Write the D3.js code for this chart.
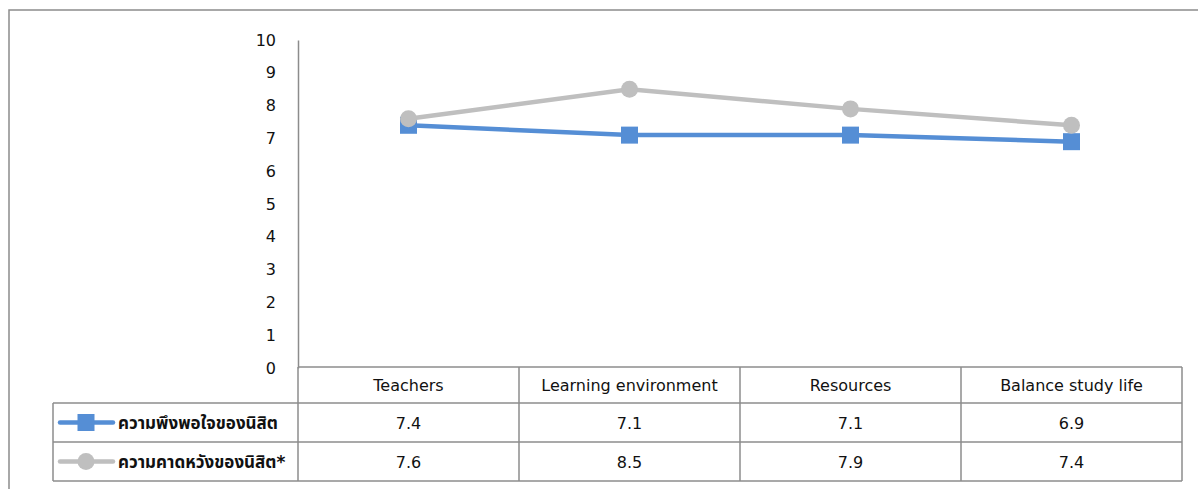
<!DOCTYPE html>
<html>
<head>
<meta charset="utf-8">
<script src="https://cdn.jsdelivr.net/npm/d3@7"></script>
<style>
  body { margin: 0; background: #fff; }
  text { font-family: "DejaVu Sans", "Noto Sans Thai", "Noto Sans", sans-serif; }
</style>
</head>
<body>
<div id="chart"></div>
<script>
const categories = ["Teachers", "Learning environment", "Resources", "Balance study life"];
const satisfaction = [7.4, 7.1, 7.1, 6.9];
const expectation = [7.6, 8.5, 7.9, 7.4];
const seriesNames = ["ความพึงพอใจของนิสิต", "ความคาดหวังของนิสิต*"];
const yTicks = [0, 1, 2, 3, 4, 5, 6, 7, 8, 9, 10];

const W = 1198, H = 489;
const plot = { left: 298, right: 1182, top: 40, bottom: 368 };
const rowLines = [367, 403, 442, 481];
const legendLeft = 53;

const svg = d3.select("#chart").append("svg")
  .attr("width", W).attr("height", H);

// outer border
svg.append("rect")
  .attr("x", 9).attr("y", 10)
  .attr("width", 1200).attr("height", 500)
  .attr("fill", "none").attr("stroke", "#8c8c8c").attr("stroke-width", 1.5);

const x = d3.scaleBand().domain(categories).range([plot.left, plot.right]);
const y = d3.scaleLinear().domain([0, 10]).range([plot.bottom, plot.top]);

// y axis
const yAxis = svg.append("g")
  .attr("transform", `translate(${plot.left},0)`)
  .call(d3.axisLeft(y).tickValues(yTicks).tickSize(0).tickPadding(22));
yAxis.select(".domain").attr("stroke", "#8c8c8c").attr("stroke-width", 1.5);
yAxis.selectAll("text").attr("font-size", 16).attr("fill", "#111");

// data table lines
const grid = svg.append("g").attr("stroke", "#8c8c8c").attr("stroke-width", 1.5);
grid.append("line").attr("x1", plot.left).attr("x2", plot.right).attr("y1", rowLines[0]).attr("y2", rowLines[0]);
rowLines.slice(1).forEach(yy => {
  grid.append("line").attr("x1", legendLeft).attr("x2", plot.right).attr("y1", yy).attr("y2", yy);
});
[plot.left, ...categories.map(c => x(c) + x.bandwidth())].forEach(xx => {
  grid.append("line").attr("x1", xx).attr("x2", xx).attr("y1", rowLines[0]).attr("y2", rowLines[3]);
});
grid.append("line").attr("x1", legendLeft).attr("x2", legendLeft).attr("y1", rowLines[1]).attr("y2", rowLines[3]);

// header
svg.append("g").selectAll("text").data(categories).join("text")
  .attr("x", d => x(d) + x.bandwidth() / 2)
  .attr("y", (rowLines[0] + rowLines[1]) / 2 + 6)
  .attr("text-anchor", "middle").attr("font-size", 16).attr("fill", "#111")
  .text(d => d);

const series = [
  { name: seriesNames[0], values: satisfaction, color: "#558ed5", shape: "square" },
  { name: seriesNames[1], values: expectation, color: "#bfbfbf", shape: "circle" }
];

const line = d3.line()
  .x((d, i) => x(categories[i]) + x.bandwidth() / 2)
  .y(d => y(d));

function marker(g, shape, color) {
  if (shape === "square") {
    g.append("rect").attr("x", -8.5).attr("y", -8.5).attr("width", 17).attr("height", 17).attr("fill", color);
  } else {
    g.append("circle").attr("r", 8.5).attr("fill", color);
  }
}

series.forEach((s, si) => {
  svg.append("path").datum(s.values)
    .attr("d", line).attr("fill", "none")
    .attr("stroke", s.color).attr("stroke-width", 4.5);
  s.values.forEach((v, i) => {
    const g = svg.append("g")
      .attr("transform", `translate(${x(categories[i]) + x.bandwidth() / 2},${y(v)})`);
    marker(g, s.shape, s.color);
  });

  const cy = (rowLines[si + 1] + rowLines[si + 2]) / 2;
  // legend key
  svg.append("line").attr("x1", 60).attr("x2", 113).attr("y1", cy).attr("y2", cy)
    .attr("stroke", s.color).attr("stroke-width", 4.5).attr("stroke-linecap", "round");
  marker(svg.append("g").attr("transform", `translate(86,${cy})`), s.shape, s.color);
  svg.append("text").attr("x", 118).attr("y", cy + 6)
    .attr("font-size", 17).attr("font-weight", "bold").attr("fill", "#111")
    .text(s.name);

  // values
  svg.append("g").selectAll("text").data(s.values).join("text")
    .attr("x", (d, i) => x(categories[i]) + x.bandwidth() / 2)
    .attr("y", cy + 6)
    .attr("text-anchor", "middle").attr("font-size", 16).attr("fill", "#111")
    .text(d => d.toFixed(1));
});
</script>
</body>
</html>
